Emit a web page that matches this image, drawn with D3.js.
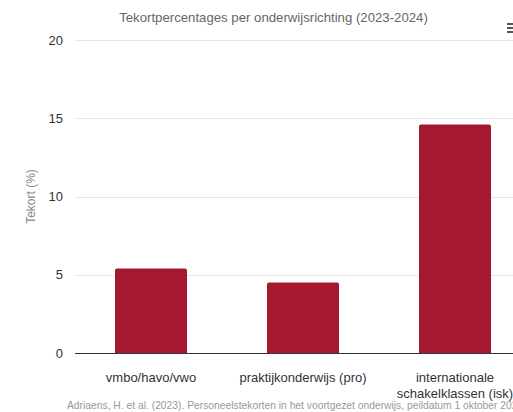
<!DOCTYPE html>
<html>
<head>
<meta charset="utf-8">
<script src="https://cdn.jsdelivr.net/npm/d3@7"></script>
<style>
  html, body { margin: 0; padding: 0; overflow: hidden; background: #fff; }
  svg { display: block; font-family: "Liberation Sans", Arial, Helvetica, sans-serif; }
</style>
</head>
<body>
<div id="chart"></div>
<script>

// Data
const categories = ['vmbo/havo/vwo', 'praktijkonderwijs (pro)', 'internationale schakelklassen (isk)']
const category_lines = [['vmbo/havo/vwo'], ['praktijkonderwijs (pro)'], ['internationale', 'schakelklassen (isk)']]
const shortage = [5.4, 4.5, 14.6]
const y_ticks = [0, 5, 10, 15, 20]

const title = 'Tekortpercentages per onderwijsrichting (2023-2024)'
const y_title = 'Tekort (%)'
const credits = 'Adriaens, H. et al. (2023). Personeelstekorten in het voortgezet onderwijs, peildatum 1 oktober 2023'

// Chart size (wider than the window, right side is cut off)
const W = 547
const H = 412
const plot = { left: 75, right: 531, top: 40, bottom: 353 }

const svg = d3.select('#chart')
  .append('svg')
  .attr('width', W)
  .attr('height', H)

// Scales
const x = d3.scaleBand()
  .domain(categories)
  .range([plot.left, plot.right])
  .paddingInner(0.526)
  .paddingOuter(0.263)

const y = d3.scaleLinear()
  .domain([0, 20])
  .range([plot.bottom, plot.top])

// Title
svg.append('text')
  .attr('x', W / 2)
  .attr('y', 22)
  .attr('text-anchor', 'middle')
  .attr('fill', '#666')
  .style('font-size', '13.2px')
  .text(title)

// Grid lines
svg.append('g')
  .selectAll('line')
  .data(y_ticks.filter(d => d > 0))
  .enter()
  .append('line')
    .attr('x1', plot.left)
    .attr('x2', W)
    .attr('y1', d => Math.round(y(d)) + 0.5)
    .attr('y2', d => Math.round(y(d)) + 0.5)
    .attr('stroke', '#e6e6e6')

// Y axis labels
const y_axis = svg.append('g')
  .attr('transform', `translate(${plot.left - 12},0)`)
  .call(d3.axisLeft(y).tickValues(y_ticks).tickSize(0).tickPadding(0))
y_axis.select('.domain').remove()
y_axis.selectAll('text')
  .attr('fill', '#333')
  .style('font-size', '13px')
  .style('font-family', '"Liberation Sans", Arial, sans-serif')

// Y axis title
svg.append('text')
  .attr('transform', `translate(35,${(plot.top + plot.bottom) / 2}) rotate(-90)`)
  .attr('text-anchor', 'middle')
  .attr('fill', '#888')
  .style('font-size', '12px')
  .text(y_title)

// Bars with slightly rounded top corners
const r = 2
svg.append('g')
  .selectAll('path')
  .data(shortage)
  .enter()
  .append('path')
    .attr('fill', '#a51930')
    .attr('d', (d, i) => {
      let x0 = x(categories[i])
      let x1 = x0 + x.bandwidth()
      let y0 = y(d)
      let y1 = y(0)
      return `M${x0},${y1} L${x0},${y0 + r} Q${x0},${y0} ${x0 + r},${y0} ` +
        `L${x1 - r},${y0} Q${x1},${y0} ${x1},${y0 + r} L${x1},${y1} Z`
    })

// X axis line
svg.append('line')
  .attr('x1', plot.left)
  .attr('x2', W)
  .attr('y1', plot.bottom + 0.5)
  .attr('y2', plot.bottom + 0.5)
  .attr('stroke', '#333')

// Category labels
const cat_g = svg.append('g')
categories.forEach((c, i) => {
  let t = cat_g.append('text')
    .attr('x', x(c) + x.bandwidth() / 2)
    .attr('y', 382)
    .attr('text-anchor', 'middle')
    .attr('fill', '#333')
    .style('font-size', '13px')
  category_lines[i].forEach((line, j) => {
    t.append('tspan')
      .attr('x', x(c) + x.bandwidth() / 2)
      .attr('dy', j == 0 ? 0 : 16)
      .text(line)
  })
})

// Credits
svg.append('text')
  .attr('x', 67)
  .attr('y', 409)
  .attr('text-anchor', 'start')
  .attr('fill', '#999')
  .style('font-size', '10.3px')
  .text(credits)

// Context menu button
svg.append('g')
  .selectAll('rect')
  .data([0, 1, 2])
  .enter()
  .append('rect')
    .attr('x', 507)
    .attr('y', d => 23 + d * 4)
    .attr('width', 12)
    .attr('height', 2)
    .attr('fill', '#555')

</script>
</body>
</html>
